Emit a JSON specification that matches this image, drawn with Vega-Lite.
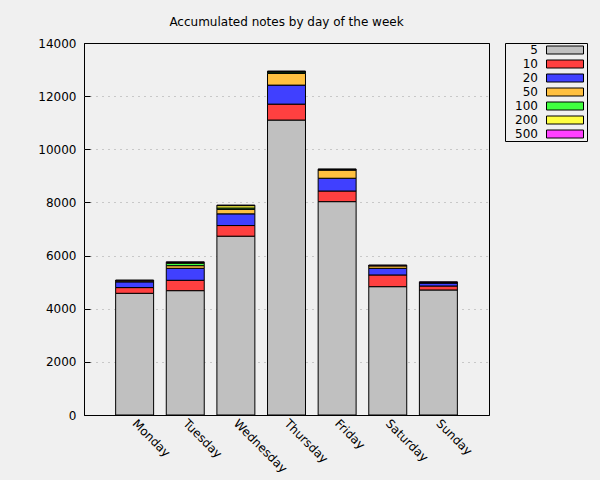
{
  "$schema": "https://vega.github.io/schema/vega-lite/v6.json",
  "autosize": "none",
  "width": 405,
  "height": 372,
  "padding": {"left": 84, "top": 43, "right": 111, "bottom": 65},
  "background": "#f0f0f0",
  "title": {"text": "Accumulated notes by day of the week", "font": "DejaVu Sans", "fontSize": 12, "fontWeight": "normal", "color": "#000000", "offset": -1, "baseline": "alphabetic", "anchor": "middle"},
  "config": {
    "font": "DejaVu Sans",
    "view": {"stroke": "#000000", "strokeWidth": 1, "fill": null},
    "axis": {"labelFont": "DejaVu Sans", "labelFontSize": 12, "labelColor": "#000000", "domain": false, "title": null}
  },
  "data": {"values": [
    {"day": "Monday", "note": "5", "k": 0, "count": 4580},
    {"day": "Monday", "note": "10", "k": 1, "count": 215},
    {"day": "Monday", "note": "20", "k": 2, "count": 215},
    {"day": "Monday", "note": "50", "k": 3, "count": 45},
    {"day": "Monday", "note": "100", "k": 4, "count": 0},
    {"day": "Monday", "note": "200", "k": 5, "count": 0},
    {"day": "Monday", "note": "500", "k": 6, "count": 25},
    {"day": "Tuesday", "note": "5", "k": 0, "count": 4680},
    {"day": "Tuesday", "note": "10", "k": 1, "count": 390},
    {"day": "Tuesday", "note": "20", "k": 2, "count": 450},
    {"day": "Tuesday", "note": "50", "k": 3, "count": 100},
    {"day": "Tuesday", "note": "100", "k": 4, "count": 90},
    {"day": "Tuesday", "note": "200", "k": 5, "count": 30},
    {"day": "Tuesday", "note": "500", "k": 6, "count": 25},
    {"day": "Wednesday", "note": "5", "k": 0, "count": 6730},
    {"day": "Wednesday", "note": "10", "k": 1, "count": 400},
    {"day": "Wednesday", "note": "20", "k": 2, "count": 440},
    {"day": "Wednesday", "note": "50", "k": 3, "count": 170},
    {"day": "Wednesday", "note": "100", "k": 4, "count": 50},
    {"day": "Wednesday", "note": "200", "k": 5, "count": 90},
    {"day": "Wednesday", "note": "500", "k": 6, "count": 20},
    {"day": "Thursday", "note": "5", "k": 0, "count": 11100},
    {"day": "Thursday", "note": "10", "k": 1, "count": 600},
    {"day": "Thursday", "note": "20", "k": 2, "count": 715},
    {"day": "Thursday", "note": "50", "k": 3, "count": 440},
    {"day": "Thursday", "note": "100", "k": 4, "count": 50},
    {"day": "Thursday", "note": "200", "k": 5, "count": 20},
    {"day": "Thursday", "note": "500", "k": 6, "count": 20},
    {"day": "Friday", "note": "5", "k": 0, "count": 8030},
    {"day": "Friday", "note": "10", "k": 1, "count": 400},
    {"day": "Friday", "note": "20", "k": 2, "count": 480},
    {"day": "Friday", "note": "50", "k": 3, "count": 310},
    {"day": "Friday", "note": "100", "k": 4, "count": 10},
    {"day": "Friday", "note": "200", "k": 5, "count": 10},
    {"day": "Friday", "note": "500", "k": 6, "count": 20},
    {"day": "Saturday", "note": "5", "k": 0, "count": 4830},
    {"day": "Saturday", "note": "10", "k": 1, "count": 440},
    {"day": "Saturday", "note": "20", "k": 2, "count": 250},
    {"day": "Saturday", "note": "50", "k": 3, "count": 100},
    {"day": "Saturday", "note": "100", "k": 4, "count": 0},
    {"day": "Saturday", "note": "200", "k": 5, "count": 0},
    {"day": "Saturday", "note": "500", "k": 6, "count": 25},
    {"day": "Sunday", "note": "5", "k": 0, "count": 4705},
    {"day": "Sunday", "note": "10", "k": 1, "count": 150},
    {"day": "Sunday", "note": "20", "k": 2, "count": 110},
    {"day": "Sunday", "note": "50", "k": 3, "count": 20},
    {"day": "Sunday", "note": "100", "k": 4, "count": 0},
    {"day": "Sunday", "note": "200", "k": 5, "count": 0},
    {"day": "Sunday", "note": "500", "k": 6, "count": 30}
  ]},
  "mark": {"type": "bar", "stroke": "#000000", "strokeWidth": 1},
  "encoding": {
    "x": {"field": "day", "type": "nominal", "sort": ["Monday", "Tuesday", "Wednesday", "Thursday", "Friday", "Saturday", "Sunday"],
      "scale": {"paddingInner": 0.25, "paddingOuter": 0.625},
      "axis": {"labelAngle": 45, "labelAlign": "left", "labelBaseline": "middle", "ticks": false, "labelPadding": 6}},
    "y": {"field": "count", "type": "quantitative", "stack": "zero",
      "scale": {"domain": [0, 14000], "nice": false},
      "axis": {"values": [0, 2000, 4000, 6000, 8000, 10000, 12000, 14000], "format": "d", "ticks": true, "tickSize": -6, "tickColor": "#000000", "tickWidth": 1, "labelPadding": 14,
        "grid": true,
        "gridColor": {"condition": {"test": "datum.value == 0 || datum.value == 14000", "value": "#000000"}, "value": "#a0a0a0"},
        "gridDash": {"condition": {"test": "datum.value == 0 || datum.value == 14000", "value": []}, "value": [1, 5]},
        "gridWidth": 1}},
    "color": {"field": "note", "type": "nominal",
      "scale": {"domain": ["5", "10", "20", "50", "100", "200", "500"], "range": ["#c0c0c0", "#ff4040", "#4040ff", "#ffc040", "#40ff40", "#ffff40", "#ff40ff"]},
      "legend": {"title": null, "orient": "none", "legendX": 421, "legendY": 0, "strokeColor": "#000000", "fillColor": null, "padding": 1,
        "symbolType": "M-4.625,-1H4.625V1H-4.625Z", "symbolSize": 64, "symbolStrokeColor": "#000000", "symbolStrokeWidth": 1, "symbolOpacity": 1,
        "rowPadding": 2, "symbolOffset": 53, "labelAlign": "right", "labelOffset": -33,
        "labelFont": "DejaVu Sans", "labelFontSize": 12, "labelColor": "#000000"}},
    "order": {"field": "k", "type": "quantitative"}
  }
}
